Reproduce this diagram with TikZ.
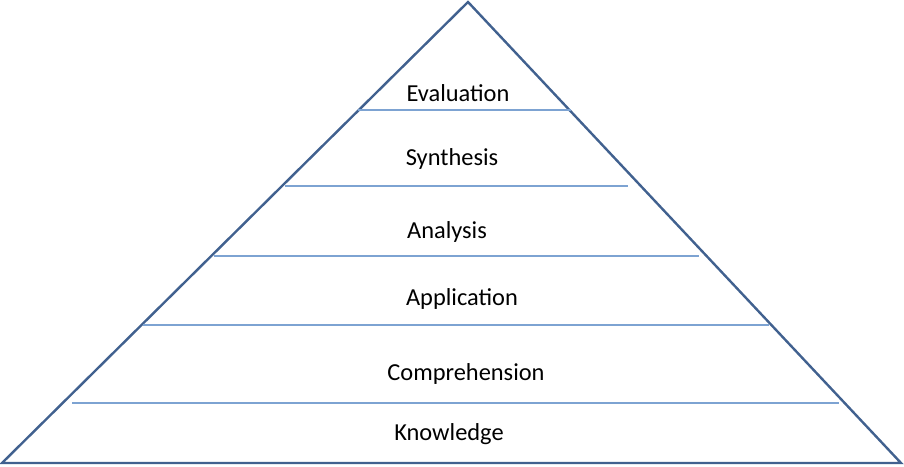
\documentclass[tikz,border=0pt]{standalone}
\usepackage{fontspec}
\setmainfont{Carlito}
\definecolor{tri}{RGB}{65,97,143}
\definecolor{lvl}{RGB}{125,163,210}
\begin{document}
\begin{tikzpicture}[x=1pt,y=-1pt,
  edge/.style={draw=tri,line width=2.4pt,line join=miter},
  sep/.style={draw=lvl,line width=1.4pt},
  lbl/.style={font=\fontsize{24.4}{28}\selectfont,text=black,inner sep=0pt}]
\useasboundingbox (0,0) rectangle (904,466);
\coordinate (apex) at (468,2);
\coordinate (bl) at (2,463);
\coordinate (br) at (901,463);
\draw[edge] (bl) -- (apex) -- (br) -- cycle;
\coordinate (s1a) at (358,110); \coordinate (s1b) at (571,110);
\coordinate (s2a) at (285,186); \coordinate (s2b) at (628,186);
\coordinate (s3a) at (214,256); \coordinate (s3b) at (699,256);
\coordinate (s4a) at (143,325); \coordinate (s4b) at (769,325);
\coordinate (s5a) at (72,403);  \coordinate (s5b) at (839,403);
\draw[sep] (s1a) -- (s1b);
\draw[sep] (s2a) -- (s2b);
\draw[sep] (s3a) -- (s3b);
\draw[sep] (s4a) -- (s4b);
\draw[sep] (s5a) -- (s5b);
\node[lbl] (ev) at (458,93) {Evaluation};
\node[lbl] (sy) at (452,159) {Synthesis};
\node[lbl] (an) at (447,232) {Analysis};
\node[lbl] (ap) at (462,299) {Application};
\node[lbl] (co) at (466,374) {Comprehension};
\node[lbl] (kn) at (449,434) {Knowledge};
\end{tikzpicture}
\end{document}
